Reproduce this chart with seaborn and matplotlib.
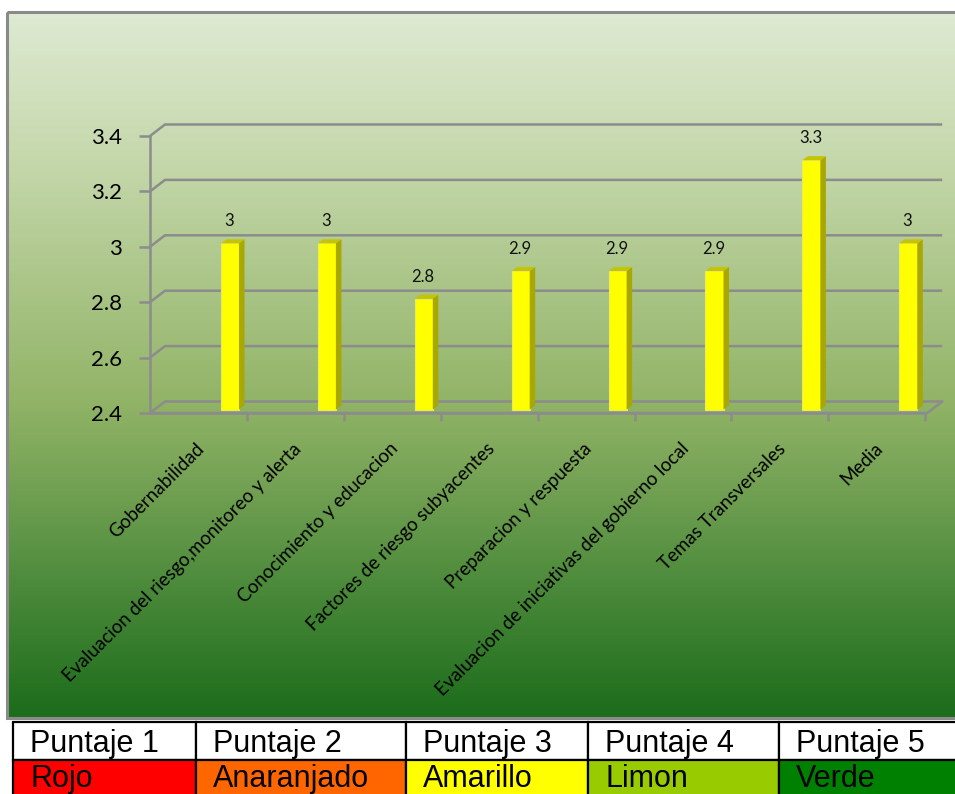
import numpy as np
import matplotlib
matplotlib.use("Agg")
import matplotlib.pyplot as plt
import seaborn as sns
from matplotlib.patches import Rectangle, Polygon
from matplotlib.transforms import IdentityTransform, ScaledTranslation

# ---------------- data ----------------
categorias = [
    "Gobernabilidad",
    "Evaluacion del riesgo,monitoreo y alerta",
    "Conocimiento y educacion",
    "Factores de riesgo subyacentes",
    "Preparacion y respuesta",
    "Evaluacion de iniciativas del gobierno local",
    "Temas Transversales",
    "Media",
]
puntajes = [3.0, 3.0, 2.8, 2.9, 2.9, 2.9, 3.3, 3.0]
y_ticks = [2.4, 2.6, 2.8, 3.0, 3.2, 3.4]

tabla_encabezado = ["Puntaje 1", "Puntaje 2", "Puntaje 3", "Puntaje 4", "Puntaje 5"]
tabla_colores_txt = ["Rojo", "Anaranjado", "Amarillo", "Limon", "Verde"]
tabla_colores = ["#ff0000", "#ff6600", "#ffff00", "#99cc00", "#008000"]

# ---------------- figure ----------------
W, H = 955, 794
plt.rcParams["font.family"] = ["Lato", "DejaVu Sans"]
fig = plt.figure(figsize=(W / 100, H / 100), dpi=100)

bg = fig.add_axes([0, 0, 1, 1])
bg.set_xlim(0, W)
bg.set_ylim(H, 0)
bg.axis("off")

# gradient background of chart area
stops_y = [12, 150, 400, 500, 600, 718]
stops_c = [(222, 234, 210), (199, 217, 174), (146, 180, 103),
           (110, 158, 80), (70, 135, 55), (27, 108, 27)]
ys = np.arange(12, 719)
cols = np.stack([np.interp(ys, stops_y, [c[i] for c in stops_c]) for i in range(3)], axis=-1) / 255.0
img = cols[:, None, :]
bg.imshow(img, extent=(7, W, 718, 12), aspect="auto", interpolation="bilinear", zorder=0)
bg.add_patch(Rectangle((7, 12), W, 706, fill=False, edgecolor="#8a8a8a", lw=2.2, zorder=1))

# ---------------- table ----------------
cx = [13, 196, 406, 588, 779, 960]
ry = [722, 760, 800]
for i in range(5):
    bg.add_patch(Rectangle((cx[i], ry[0]), cx[i + 1] - cx[i], ry[1] - ry[0],
                           facecolor="white", edgecolor="black", lw=1.6, zorder=2))
    bg.add_patch(Rectangle((cx[i], ry[1]), cx[i + 1] - cx[i], ry[2] - ry[1],
                           facecolor=tabla_colores[i], edgecolor="black", lw=1.6, zorder=2))
    bg.text(cx[i] + 17, 752, tabla_encabezado[i], fontsize=22, family="Liberation Sans",
            va="baseline", ha="left", zorder=3)
    bg.text(cx[i] + 17, 787, tabla_colores_txt[i], fontsize=22, family="Liberation Sans",
            va="baseline", ha="left", zorder=3)

# ---------------- main axes (front plane) ----------------
left, top, bottom, width = 150, 136, 413, 775.2
ax = fig.add_axes([left / W, 1 - bottom / H, width / W, (bottom - top) / H])
ax.patch.set_alpha(0)

sns.barplot(x=categorias, y=puntajes, color="#ffff00", saturation=1, width=0.186,
            edgecolor="#eaea60", linewidth=0.8, ax=ax, zorder=3)
shift = 0.3256
ax.set_xlim(-0.5 - shift, 7.5 - shift)
ax.set_ylim(2.4, 3.4)

gray = "#8c8c8c"
for s in ["top", "right"]:
    ax.spines[s].set_visible(False)
for s in ["left", "bottom"]:
    ax.spines[s].set_color(gray)
    ax.spines[s].set_linewidth(1.8)

ax.set_yticks(y_ticks)
ax.set_yticklabels([f"{t:g}" for t in y_ticks])
ax.tick_params(axis="y", length=8, width=1.8, color=gray, pad=12, labelsize=16)
ax.set_xticks([j - 0.5 - shift for j in range(1, 9)])
ax.set_xticklabels([])
ax.tick_params(axis="x", length=6, width=1.8, color=gray)
ax.set_xlabel("")
ax.set_ylabel("")

lift = 3.5  # bars sit slightly behind the front plane
off = ScaledTranslation(0, lift / 100, fig.dpi_scale_trans)

def to_ref(x, y):
    d = ax.transData.transform((x, y))
    return d[0], H - d[1]

# back wall gridlines with diagonal connectors (ref pixel coords in bg)
dx3, dy3 = 15, 11.5
x_front_l, _ = to_ref(-0.5 - shift, 2.4)
x_front_r, _ = to_ref(7.5 - shift, 2.4)
for t in y_ticks:
    _, yf = to_ref(0, t)
    bg.plot([x_front_l, x_front_l + dx3, x_front_r + dx3 + 2],
            [yf, yf - dy3, yf - dy3], color=gray, lw=1.8, zorder=2, solid_capstyle="butt")
# floor right diagonal
_, yb = to_ref(0, 2.4)
bg.plot([x_front_l, x_front_r + 2, x_front_r + dx3 + 2], [yb, yb, yb - dy3],
        color=gray, lw=1.8, zorder=2)

# bars: shift up, start at 2.4, add 3D side & top
dxb, dyb = 5.5, 4.0
for p, v in zip(ax.patches, puntajes):
    p.set_y(2.4)
    p.set_height(v - 2.4)
    p.set_transform(ax.transData + off)
    p.set_clip_on(False)
    x0, y0 = ax.transData.transform((p.get_x(), 2.4))
    x1, y1 = ax.transData.transform((p.get_x() + p.get_width(), v))
    y0 += lift
    y1 += lift
    side = Polygon([(x1, y0), (x1 + dxb, y0 + dyb), (x1 + dxb, y1 + dyb), (x1, y1)],
                   closed=True, transform=IdentityTransform(), facecolor="#a8a800",
                   edgecolor="none", zorder=2)
    topf = Polygon([(x0, y1), (x0 + dxb, y1 + dyb), (x1 + dxb, y1 + dyb), (x1, y1)],
                   closed=True, transform=IdentityTransform(), facecolor="#c4c400",
                   edgecolor="none", zorder=2)
    fig.add_artist(side)
    fig.add_artist(topf)

# value labels
for k, v in enumerate(puntajes):
    ax.annotate(f"{v:g}", xy=(k, v), xytext=(-1, 22 + lift), textcoords="offset pixels",
                ha="center", va="center", fontsize=12, color="#111111")

# rotated category labels
for k, c in enumerate(categorias):
    ax.annotate(c, xy=(k - shift, 2.4), xytext=(3, -33), textcoords="offset pixels",
                rotation=45, rotation_mode="anchor", ha="right", va="center",
                fontsize=13.5, color="black", annotation_clip=False)

fig.savefig("out.png", dpi=100)
